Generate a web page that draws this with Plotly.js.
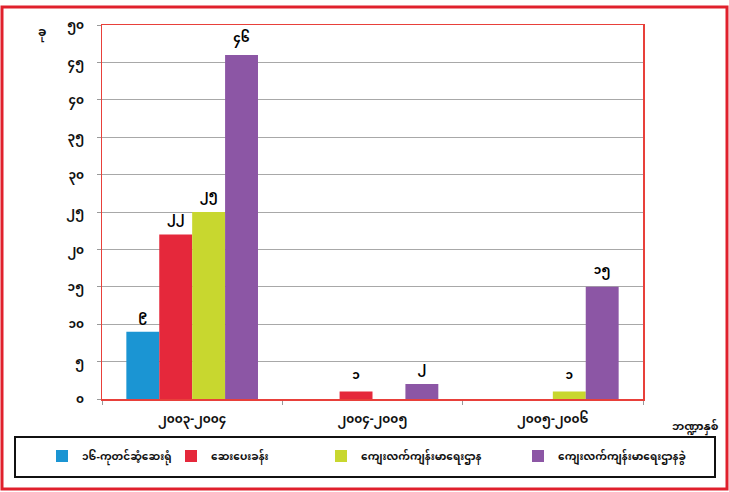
<!DOCTYPE html>
<html>
<head>
<meta charset="utf-8">
<script src="https://cdn.plot.ly/plotly-3.0.1.min.js"></script>
<style>html,body{margin:0;padding:0;background:#fff;}#chart{width:729px;height:492px;}</style>
</head>
<body>
<div id="chart"></div>
<script>
var categories = ["၂၀၀၃-၂၀၀၄", "၂၀၀၄-၂၀၀၅", "၂၀၀၅-၂၀၀၆"];
var seriesNames = ["၁၆-ကုတင်ဆံ့ဆေးရုံ", "ဆေးပေးခန်း", "ကျေးလက်ကျန်းမာရေးဌာန", "ကျေးလက်ကျန်းမာရေးဌာနခွဲ"];
var hospital16 = [9, 0, 0];
var dispensary = [22, 1, 0];
var ruralHealthCenter = [25, 0, 1];
var ruralSubCenter = [46, 2, 15];
var yTickVals = [0, 5, 10, 15, 20, 25, 30, 35, 40, 45, 50];
var yTickText = ["၀", "၅", "၁၀", "၁၅", "၂၀", "၂၅", "၃၀", "၃၅", "၄၀", "၄၅", "၅၀"];
var yTitle = "ခု";
var xTitle = "ဘဏ္ဍာနှစ်";
var colors = ["#1b95d3", "#e5283b", "#c8d72f", "#8c56a5"];

var FONT = "'Noto Sans Myanmar', 'Padauk', 'Myanmar Text', 'Noto Sans', 'DejaVu Sans', sans-serif";
function toMy(n) {
  var d = "၀၁၂၃၄၅၆၇၈၉";
  return String(n).replace(/[0-9]/g, function (c) { return d[+c]; });
}

// pixel helpers (plot area: x 102..643, y 25..399)
var L = 102, R = 643, T = 25, B = 399;
function px(x) { return (x - L) / (R - L); }
function py(y) { return (B - y) / (B - T); }

var legendIds = ["legend", "legend2", "legend3", "legend4"];
var legendLeft = [42, 171, 321, 518];

var allSeries = [hospital16, dispensary, ruralHealthCenter, ruralSubCenter];
var traces = allSeries.map(function (vals, i) {
  return {
    type: "bar",
    name: seriesNames[i],
    legend: legendIds[i],
    x: categories,
    y: vals,
    marker: {color: colors[i]},
    text: vals.map(function (v) { return v ? toMy(v) : ""; }),
    textposition: "outside",
    textfont: {family: FONT, size: 12, color: "#000", weight: "bold"},
    cliponaxis: false,
    hoverinfo: "none"
  };
});

var layout = {
  width: 729, height: 492,
  margin: {l: L, r: 729 - R, t: T, b: 492 - B},
  paper_bgcolor: "#ffffff",
  plot_bgcolor: "#ffffff",
  barmode: "group",
  bargap: 0.27,
  bargroupgap: 0,
  showlegend: true,
  font: {family: FONT, color: "#111"},
  xaxis: {
    type: "category",
    showline: true, linecolor: "#e8403a", linewidth: 1.5, mirror: true,
    ticks: "outside", ticklen: 4, tickcolor: "#999", tickson: "boundaries",
    ticklabelstandoff: 8,
    tickfont: {family: FONT, size: 12, color: "#111", weight: "bold"},
    showgrid: false
  },
  yaxis: {
    range: [0, 50],
    tickvals: yTickVals, ticktext: yTickText,
    showline: true, linecolor: "#e8403a", linewidth: 1.5, mirror: true,
    ticks: "outside", ticklen: 4, tickcolor: "#999",
    ticklabelstandoff: 10,
    tickfont: {family: FONT, size: 12, color: "#111", weight: "bold"},
    showgrid: true, gridcolor: "#a8a8a8", gridwidth: 1,
    zeroline: false
  },
  shapes: [
    {type: "rect", xref: "paper", yref: "paper", x0: px(2), x1: px(727), y0: py(489), y1: py(7),
     line: {color: "#e0202c", width: 3}, fillcolor: "rgba(0,0,0,0)", layer: "below"},
    {type: "rect", xref: "paper", yref: "paper", x0: px(15), x1: px(715), y0: py(477), y1: py(437),
     line: {color: "#111", width: 2}, fillcolor: "rgba(0,0,0,0)"}
  ],
  annotations: [
    {xref: "paper", yref: "paper", x: px(695), y: py(427), xanchor: "center", yanchor: "middle",
     text: xTitle, showarrow: false, font: {family: FONT, size: 11, color: "#111", weight: "bold"}},
    {xref: "paper", yref: "paper", x: px(42), y: py(33), xanchor: "center", yanchor: "middle",
     text: yTitle, showarrow: false, font: {family: FONT, size: 12, color: "#111", weight: "bold"}}
  ]
};
legendIds.forEach(function (id, i) {
  layout[id] = {
    x: px(legendLeft[i]), xanchor: "left",
    y: py(456), yanchor: "middle",
    orientation: "h",
    font: {family: FONT, size: 10.5, color: "#111", weight: "bold"},
    bgcolor: "rgba(0,0,0,0)"
  };
});

Plotly.newPlot("chart", traces, layout, {displayModeBar: false, staticPlot: true});
</script>
</body>
</html>
